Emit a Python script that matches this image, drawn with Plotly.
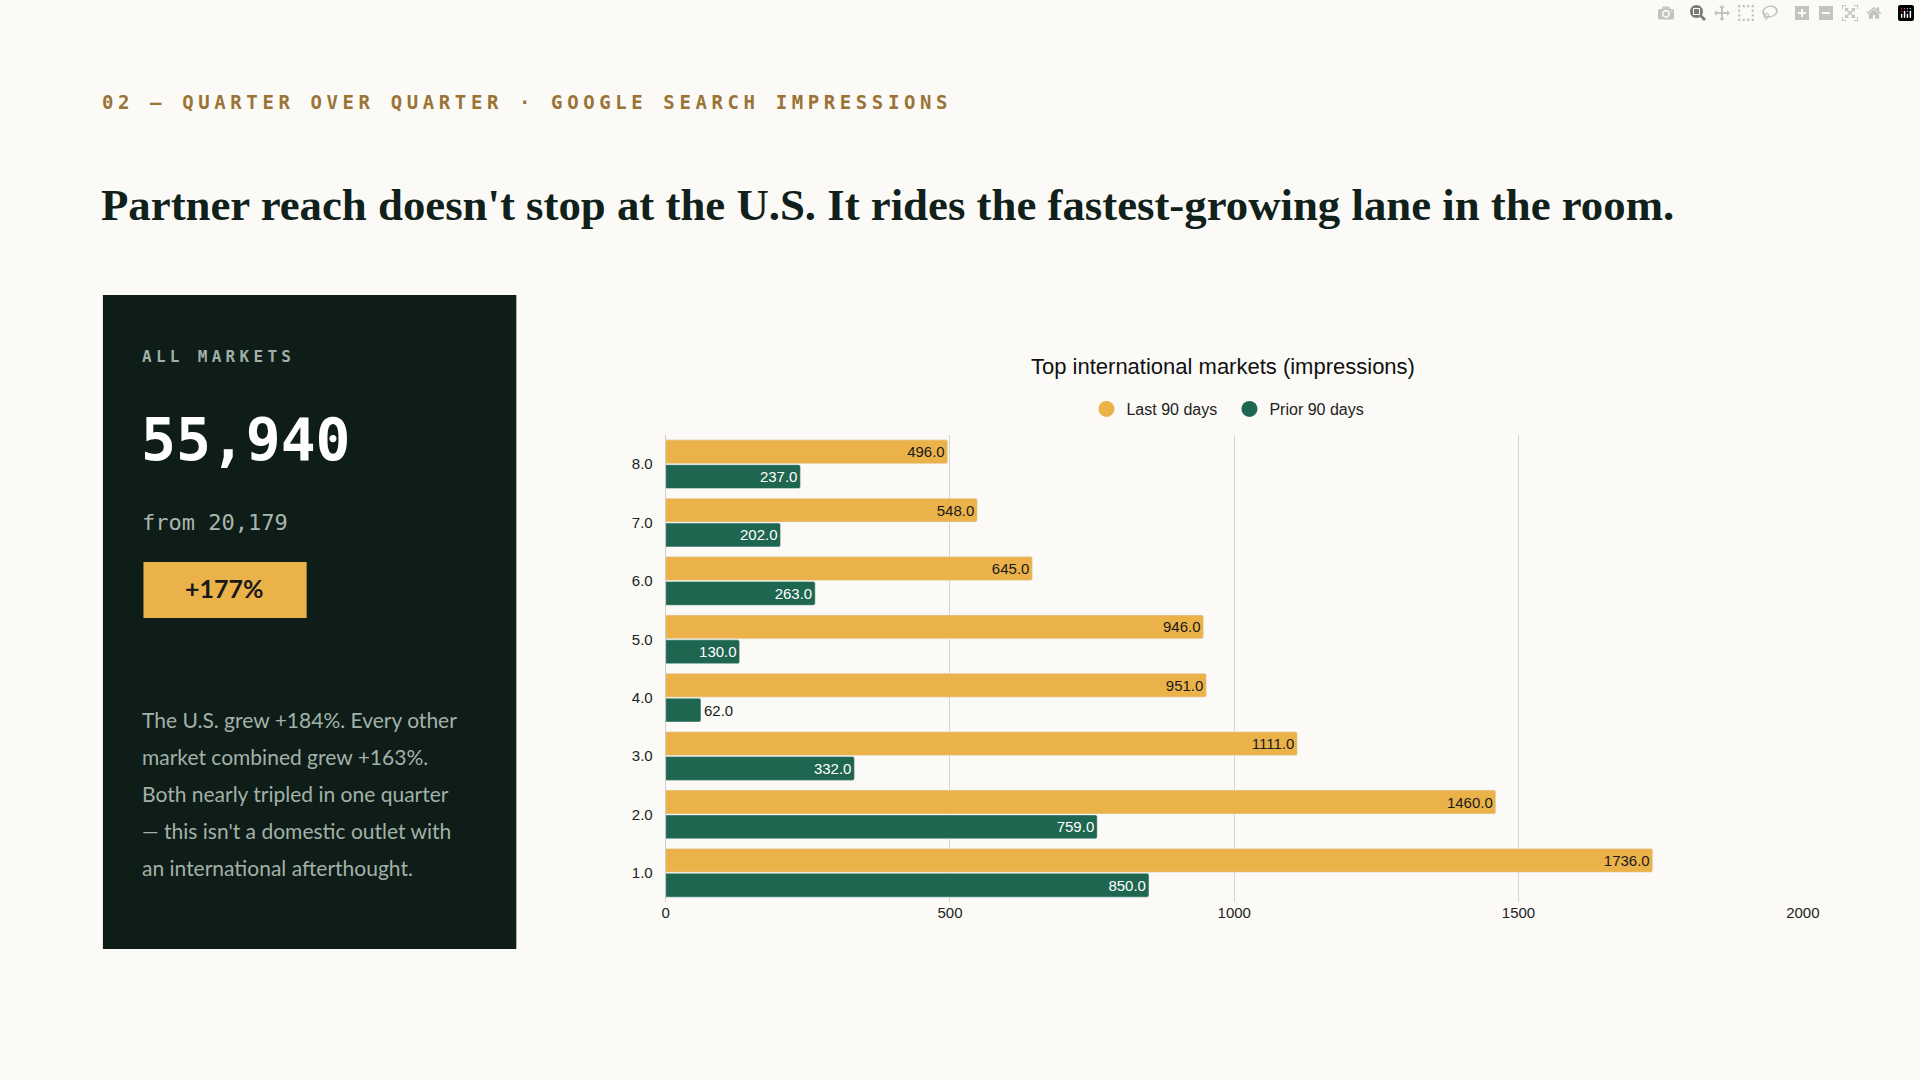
import plotly.graph_objects as go

# slide: quarter over quarter, top international markets

W, H = 1920, 1080

markets = [1, 2, 3, 4, 5, 6, 7, 8]
last_90 = [1736, 1460, 1111, 951, 946, 645, 548, 496]
prior_90 = [850, 759, 332, 62, 130, 263, 202, 237]
x_ticks = [0, 500, 1000, 1500, 2000]

kicker = "02 — QUARTER OVER QUARTER · GOOGLE SEARCH IMPRESSIONS"
headline = "Partner reach doesn't stop at the U.S. It rides the fastest-growing lane in the room."
total_now = "55,940"
total_before = "from 20,179"
growth = "+177%"
note_lines = [
    "The U.S. grew +184%. Every other",
    "market combined grew +163%.",
    "Both nearly tripled in one quarter",
    "— this isn't a domestic outlet with",
    "an international afterthought.",
]

BG = "#fbfaf6"
DARK = "#0e1d18"
GOLD = "#ebb24a"
GREEN = "#1f6650"
MONO = "DejaVu Sans Mono"


def px(x):
    return x / W


def py(y):
    return 1 - y / H


# short bars get their label outside, like the original
prior_pos = ["outside" if v < 100 else "inside" for v in prior_90]
last_pos = ["outside" if v < 100 else "inside" for v in last_90]

fig = go.Figure()

fig.add_trace(go.Bar(
    y=markets, x=prior_90, orientation="h", name="Prior 90 days",
    marker=dict(color=GREEN, cornerradius=2), showlegend=False,
    texttemplate="%{x:.1f}", textposition=prior_pos, insidetextanchor="end",
    insidetextfont=dict(color="white", size=15, family="Liberation Sans"),
    outsidetextfont=dict(color="#1a1a1a", size=15, family="Liberation Sans"),
    constraintext="none", cliponaxis=False,
))
fig.add_trace(go.Bar(
    y=markets, x=last_90, orientation="h", name="Last 90 days",
    marker=dict(color=GOLD, cornerradius=2), showlegend=False,
    texttemplate="%{x:.1f}", textposition=last_pos, insidetextanchor="end",
    insidetextfont=dict(color="#1a1a1a", size=15, family="Liberation Sans"),
    outsidetextfont=dict(color="#1a1a1a", size=15, family="Liberation Sans"),
    constraintext="none", cliponaxis=False,
))

# legend entries with round markers
fig.add_trace(go.Scatter(x=[None], y=[None], mode="markers", name="Last 90 days",
                         marker=dict(color=GOLD, size=16, symbol="circle"), legendrank=1))
fig.add_trace(go.Scatter(x=[None], y=[None], mode="markers", name="Prior 90 days",
                         marker=dict(color=GREEN, size=16, symbol="circle"), legendrank=2))

# dark stat panel
fig.add_shape(type="rect", xref="paper", yref="paper",
              x0=px(100), x1=px(518), y0=py(949), y1=py(295),
              fillcolor=DARK, line=dict(width=0), layer="below")
fig.add_shape(type="rect", xref="paper", yref="paper",
              x0=px(141), x1=px(306), y0=py(618), y1=py(562),
              fillcolor=GOLD, line=dict(width=0))


def note(text, x, y, size, color, family, xanchor="left", spacing=None, bold=False):
    if bold:
        text = "<b>" + text + "</b>"
    if spacing:
        text = '<span style="letter-spacing:%spx">%s</span>' % (spacing, text)
    fig.add_annotation(x=px(x), y=py(y), xref="paper", yref="paper", text=text,
                       showarrow=False, xanchor=xanchor, yanchor="middle",
                       font=dict(size=size, color=color, family=family))


note(kicker, 97, 102, 19, "#9a7436", MONO, spacing=4.6, bold=True)
note(headline, 96, 205, 44.8, "#10201a", "Liberation Serif", bold=True)
note("ALL MARKETS", 138, 357, 16, "#9fb0a6", MONO, spacing=4.3, bold=True)
note(total_now, 136, 440, 58, "white", MONO, bold=True)
note(total_before, 138, 522, 22, "#a9b6ae", MONO)
note(growth, 223, 588, 25, "#1a1a1a", "Lato", xanchor="center", bold=True)
for i, line in enumerate(note_lines):
    note(line, 138, 719 + i * 37, 21, "#a3b1a8", "Lato")

note("Top international markets (impressions)", 1232, 366, 22, "#111111",
     "Liberation Sans", xanchor="center")

fig.update_layout(
    width=W, height=H,
    margin=dict(l=0, r=0, t=0, b=0),
    paper_bgcolor=BG, plot_bgcolor=BG,
    barmode="group", bargap=0.15, bargroupgap=0.04,
    font=dict(family="Liberation Sans", color="#222222"),
    legend=dict(orientation="h", x=px(1239), y=py(409), xanchor="center", yanchor="middle",
                font=dict(size=16, color="#222222"), bgcolor="rgba(0,0,0,0)",
                itemwidth=30, entrywidth=98),
    xaxis=dict(domain=[px(669), px(1818.7)], range=[0, 2000], tickvals=x_ticks,
               showgrid=True, gridcolor="#d6d4ce", gridwidth=1,
               zeroline=True, zerolinecolor="#cfcdc7", zerolinewidth=1,
               tickfont=dict(size=15, color="#222222"), ticks=""),
    yaxis=dict(domain=[py(902), py(435)], range=[0.5, 8.5], tickvals=markets,
               tickformat=".1f", showgrid=False, zeroline=False,
               tickfont=dict(size=15, color="#222222"), ticks="",
               ticklabelstandoff=12),
)

fig.write_html(
    "out.html",
    post_script="document.body.style.margin='0';"
                "document.documentElement.style.overflow='hidden';"
                "document.body.style.overflow='hidden';",
)
